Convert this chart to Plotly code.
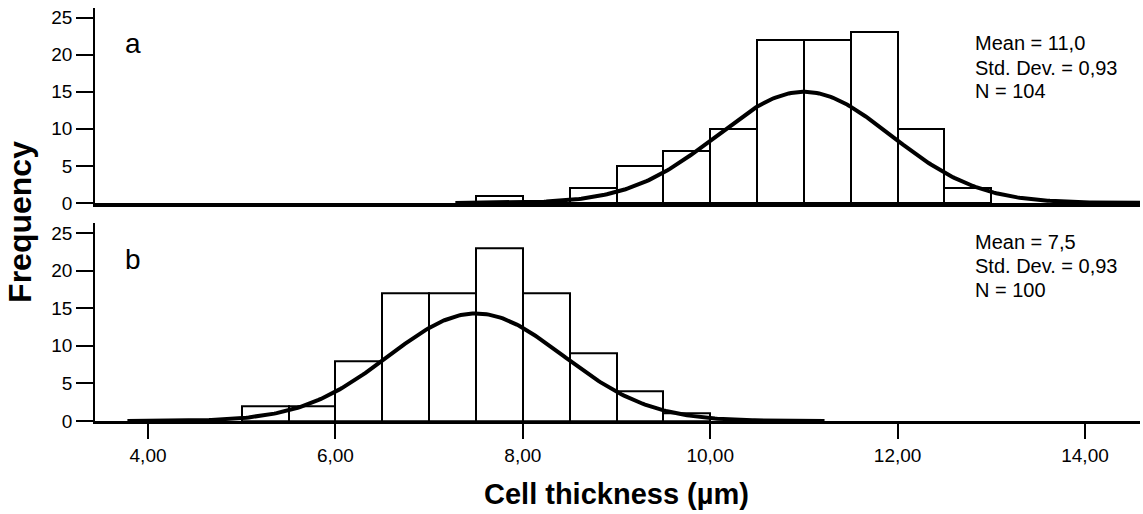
import numpy as np
import plotly.graph_objects as go

# ---- data ----
bin_width = 0.5
bins_a = [7.5, 8.0, 8.5, 9.0, 9.5, 10.0, 10.5, 11.0, 11.5, 12.0, 12.5]
counts_a = [1, 0, 2, 5, 7, 10, 22, 22, 23, 10, 2]
bins_b = [5.0, 5.5, 6.0, 6.5, 7.0, 7.5, 8.0, 8.5, 9.0, 9.5]
counts_b = [2, 2, 8, 17, 17, 23, 17, 9, 4, 1]

mean_a, sd_a, n_a, peak_a = 11.0, 0.93, 104, 15.0
mean_b, sd_b, n_b, peak_b = 7.5, 0.93, 100, 14.3

x_ticks = [4, 6, 8, 10, 12, 14]
x_tick_labels = ["4,00", "6,00", "8,00", "10,00", "12,00", "14,00"]
y_ticks = [0, 5, 10, 15, 20, 25]

FONT = "Arial, Liberation Sans, sans-serif"
x_range = [3.434, 14.587]
y_range = [0, 26.3]


def normal_curve(mean, sd, peak):
    xs = np.linspace(mean - 4 * sd, mean + 4 * sd, 300)
    ys = peak * np.exp(-0.5 * ((xs - mean) / sd) ** 2)
    return xs, ys


def comma(v, nd):
    return f"{v:.{nd}f}".replace(".", ",")


fig = go.Figure()

for bins, counts, xa, ya in [(bins_a, counts_a, "x", "y"), (bins_b, counts_b, "x2", "y2")]:
    centers = [b + bin_width / 2 for b in bins]
    fig.add_trace(go.Bar(
        x=centers, y=counts, width=bin_width,
        marker=dict(color="white", line=dict(color="black", width=2)),
        xaxis=xa, yaxis=ya, showlegend=False, hoverinfo="skip",
    ))

for mean, sd, peak, xa, ya in [(mean_a, sd_a, peak_a, "x", "y"), (mean_b, sd_b, peak_b, "x2", "y2")]:
    xs, ys = normal_curve(mean, sd, peak)
    fig.add_trace(go.Scatter(
        x=xs, y=ys, mode="lines", line=dict(color="black", width=4),
        xaxis=xa, yaxis=ya, showlegend=False, hoverinfo="skip",
    ))

axis_common = dict(showgrid=False, zeroline=False, showline=True, linecolor="black",
                   tickcolor="black",
                   tickfont=dict(family=FONT, size=19, color="black"))

fig.update_layout(
    width=1143, height=514,
    margin=dict(l=95, r=3, t=8, b=93),
    plot_bgcolor="white", paper_bgcolor="white",
    bargap=0,
    xaxis=dict(**axis_common, domain=[0, 1], range=x_range, anchor="y",
               showticklabels=False, ticks="", linewidth=4),
    yaxis=dict(**axis_common, domain=[0.528, 1], range=y_range, anchor="x",
               tickvals=y_ticks, ticks="outside", ticklen=17, tickwidth=2, linewidth=1.5),
    xaxis2=dict(**axis_common, domain=[0, 1], range=x_range, anchor="y2",
                tickvals=x_ticks, ticktext=x_tick_labels, ticks="outside",
                ticklen=15, tickwidth=2, linewidth=2.5),
    yaxis2=dict(**axis_common, domain=[0, 0.479], range=y_range, anchor="x2",
                tickvals=y_ticks, ticks="outside", ticklen=17, tickwidth=2, linewidth=1.5),
)

# axis titles
fig.add_annotation(text="<b>Frequency</b>", x=-0.0718, y=0.482, xref="paper", yref="paper",
                   textangle=-90, showarrow=False, xanchor="center", yanchor="middle",
                   font=dict(family=FONT, size=32, color="black"))
fig.add_annotation(text="<b>Cell thickness (µm)</b>", x=0.4995, y=-0.177, xref="paper", yref="paper",
                   showarrow=False, xanchor="center", yanchor="middle",
                   font=dict(family=FONT, size=29, color="black"))

# panel letters
for label, yd in [("a", 0.915), ("b", 0.390)]:
    fig.add_annotation(text=label, x=0.0268, y=yd, xref="paper", yref="paper",
                       showarrow=False, xanchor="left", yanchor="middle",
                       font=dict(family=FONT, size=28, color="black"))

# statistics boxes
stats = [
    ([f"Mean = {comma(mean_a, 1)}", f"Std. Dev. = {comma(sd_a, 2)}", f"N = {n_a}"], [0.916, 0.855, 0.798]),
    ([f"Mean = {comma(mean_b, 1)}", f"Std. Dev. = {comma(sd_b, 2)}", f"N = {n_b}"], [0.433, 0.375, 0.317]),
]
for lines, ys in stats:
    for txt, yd in zip(lines, ys):
        fig.add_annotation(text=txt, x=0.840, y=yd, xref="paper", yref="paper",
                           showarrow=False, xanchor="left", yanchor="middle", align="left",
                           font=dict(family=FONT, size=20, color="black"))

fig.write_html("out.html")
